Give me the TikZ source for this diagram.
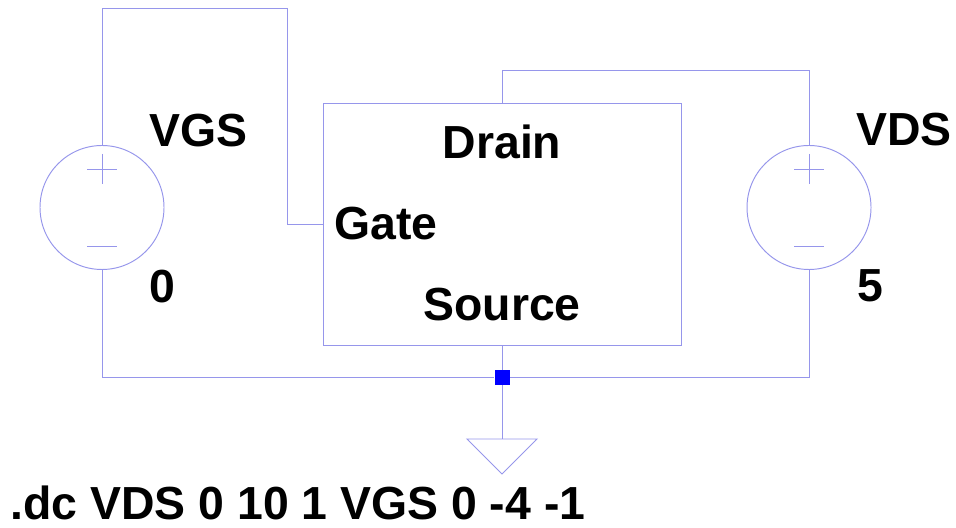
\documentclass[tikz,border=0pt]{standalone}
\usepackage{fontspec}
\setmainfont{Liberation Sans}
\usepackage{tikz}
\definecolor{wirecol}{RGB}{150,150,235}
\definecolor{dotcol}{RGB}{0,0,255}
\tikzset{
    wire/.style={draw=wirecol,line width=0.55pt},
    vsource/.style={circle,draw=wirecol,line width=0.55pt,minimum size=2.48cm,inner sep=0pt},
    fetbox/.style={rectangle,draw=wirecol,line width=0.55pt,minimum width=7.16cm,minimum height=4.84cm,inner sep=0pt},
    lbl/.style={text=black,inner sep=0pt,font=\fontsize{26.4}{30}\selectfont\bfseries},
    junction/.style={rectangle,fill=dotcol,minimum size=0.3cm,inner sep=0pt}
}
\begin{document}
\begin{tikzpicture}

    \useasboundingbox (0,0) rectangle (19.12,10.54);

    % sources and block
    \node[vsource] (vgs) at (2.04,6.39) {};
    \node[vsource] (vds) at (16.18,6.39) {};
    \node[fetbox] (fet) at (10.04,6.06) {};

    % plus and minus marks
    \draw[wire] ([shift={(-0.3,0.77)}]vgs.center) -- ++(0.6,0);
    \draw[wire] ([shift={(0,1.07)}]vgs.center) -- ++(0,-0.6);
    \draw[wire] ([shift={(-0.3,-0.77)}]vgs.center) -- ++(0.6,0);
    \draw[wire] ([shift={(-0.3,0.77)}]vds.center) -- ++(0.6,0);
    \draw[wire] ([shift={(0,1.07)}]vds.center) -- ++(0,-0.6);
    \draw[wire] ([shift={(-0.3,-0.77)}]vds.center) -- ++(0.6,0);

    % corners and ground
    \coordinate (gatetop) at (5.74,10.38);
    \coordinate (draintop) at (16.18,9.14);
    \node[junction] (dot) at (10.04,2.99) {};
    \coordinate (gnd) at (10.04,1.76);

    % wires
    \draw[wire] (vgs.north) |- (gatetop) |- (fet.west);
    \draw[wire] (fet.north) |- (draintop) -- (vds.north);
    \draw[wire] (vgs.south) |- (dot.west);
    \draw[wire] (vds.south) |- (dot.east);
    \draw[wire] (fet.south) -- (dot.north);
    \draw[wire] (dot.south) -- (gnd);
    \draw[wire] (gnd) -- ++(-0.7,0) -- ++(0.7,-0.7) -- ++(0.7,0.7) -- cycle;

    % text
    \node[lbl,anchor=west] (vgslabel) at (2.98,7.92) {VGS};
    \node[lbl,anchor=west] (zero) at (2.98,4.8) {0};
    \node[lbl,anchor=west] (vdslabel) at (17.12,7.94) {VDS};
    \node[lbl,anchor=west] (five) at (17.14,4.82) {5};
    \node[lbl,anchor=center] (drain) at (10.04,7.7) {Drain};
    \node[lbl,anchor=west] (gate) at (6.68,6.06) {Gate};
    \node[lbl,anchor=center] (source) at (10.04,4.44) {Source};
    \node[lbl,anchor=west] (dc) at (0.2,0.48) {.dc VDS 0 10 1 VGS 0 -4 -1};

\end{tikzpicture}
\end{document}
